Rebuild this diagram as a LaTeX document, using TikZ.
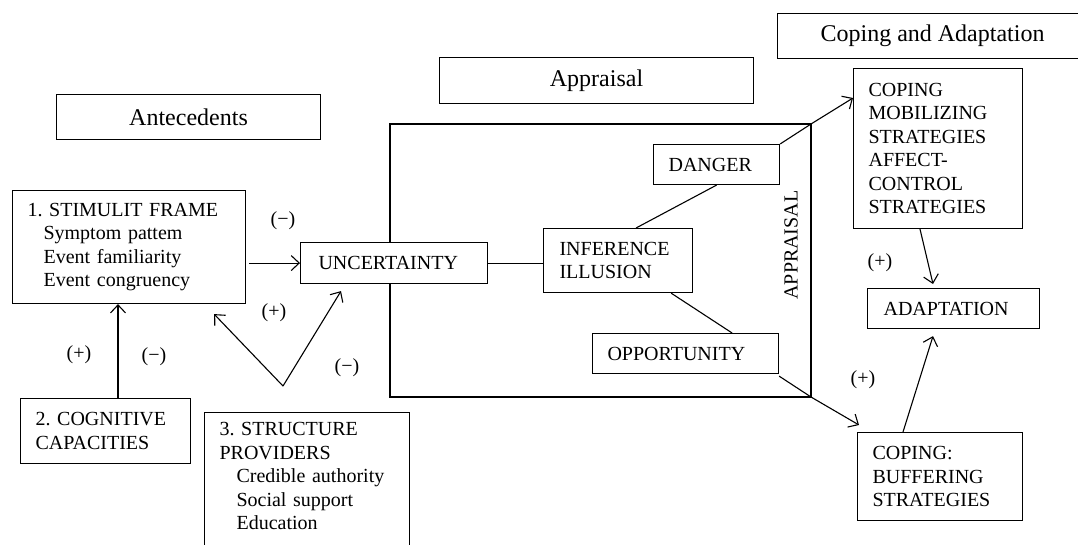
\documentclass[tikz,border=0pt]{standalone}
\usepackage{fontspec}
\setmainfont{Liberation Serif}
\usetikzlibrary{arrows.meta,calc}
\frenchspacing

\begin{document}
\begin{tikzpicture}[
    x=1pt, y=-1pt,
    >={Straight Barb[length=8pt,width=15pt]},
    line width=1.1pt,
    every node/.style={font=\fontsize{20}{23.5}\selectfont},
    box/.style={draw, fill=white, anchor=north west, inner ysep=0pt, align=left},
    titlebox/.style={draw, anchor=north west, inner sep=0pt,
        font=\fontsize{24}{28}\selectfont},
    sign/.style={inner sep=0pt}
]
\useasboundingbox (0,0) rectangle (1078,544);
\clip (0,0) rectangle (1078,544);

%-------------------------
% Column titles
%-------------------------
\node[titlebox, minimum width=264pt, minimum height=45pt] (ante) at (56,94) {Antecedents};
\node[titlebox, minimum width=314pt, minimum height=46pt] (apprt) at (439,57) {Appraisal};
\node[titlebox, minimum width=310pt, minimum height=45pt] (copet) at (777,13) {Coping and Adaptation};

%-------------------------
% Antecedents
%-------------------------
\node[box, text width=203pt, inner xsep=15pt, minimum height=113pt] (stim) at (12,190)
    {1. STIMULIT FRAME\\
     \hspace*{16pt}Symptom pattem\\
     \hspace*{16pt}Event familiarity\\
     \hspace*{16pt}Event congruency};
\node[box, text width=140pt, inner xsep=15pt, minimum height=65pt] (cog) at (20,398)
    {2. COGNITIVE\\CAPACITIES};
\node[box, text width=175pt, inner xsep=15pt, inner ysep=10pt] (struct) at (204,412)
    {3. STRUCTURE\\PROVIDERS\\
     \hspace*{17pt}Credible authority\\
     \hspace*{17pt}Social support\\
     \hspace*{17pt}Education\\ \mbox{}};

%-------------------------
% Appraisal
%-------------------------
\draw (390,124) rectangle (811,397);
\coordinate (fNE) at (811,124);
\coordinate (fSE) at (811,397);
\node[rotate=90] (apprlbl) at (791,245) {APPRAISAL};

\node[box, text width=151pt, inner xsep=18pt, minimum height=41pt] (unc) at (300,242) {UNCERTAINTY};
\node[box, text width=117pt, inner xsep=16pt, minimum height=64pt] (infer) at (543,228)
    {INFERENCE\\ILLUSION};
\node[box, text width=96pt, inner xsep=15pt, minimum height=40pt] (danger) at (653,144) {DANGER};
\node[box, text width=156pt, inner xsep=15pt, minimum height=40pt] (opp) at (592,333) {OPPORTUNITY};

%-------------------------
% Coping and adaptation
%-------------------------
\node[box, text width=139pt, inner xsep=15pt, minimum height=160pt] (mob) at (853,68)
    {COPING\\MOBILIZING\\STRATEGIES\\AFFECT-\\CONTROL\\STRATEGIES};
\node[box, text width=140pt, inner xsep=16pt, minimum height=40pt] (adapt) at (867,288) {ADAPTATION};
\node[box, text width=135pt, inner xsep=15pt, minimum height=88pt] (buff) at (857,432)
    {COPING:\\BUFFERING\\STRATEGIES};

%-------------------------
% Links
%-------------------------
\draw[->] ([xshift=3pt]stim.east |- unc.west) -- (unc.west);
\draw (unc.east) -- (unc.east -| infer.west);
\draw (danger.south) -- ($(infer.north)+(18,0)$);
\draw ($(infer.south east)+(-22,0)$) -- ($(opp.north east)+(-47,0)$);

% Cognitive capacities
\coordinate (cogtop) at ($(cog.north west)+(98,0)$);
\draw[->] (cogtop) -- (cogtop |- stim.south);

% Structure providers
\coordinate (vtx) at (283,386);
\draw[->] (vtx) -- ($(stim.south east)+(-32,10)$);
\draw[->] (vtx) -- ($(unc.south west)+(41,7)$);

% To coping
\draw[->] (danger.north east) -- (fNE) -- ($(mob.north west)+(0,30)$);
\draw[->] ($(opp.south east)+(0,2)$) -- (fSE) -- ($(buff.north west)+(2,-7)$);
\draw[->] ($(mob.south west)+(67,0)$) -- ($(adapt.north west)+(66,-4)$);
\draw[->] ($(buff.north west)+(46,0)$) -- ($(adapt.south west)+(66,7)$);

%-------------------------
% Signs
%-------------------------
\node[sign] (s1) at (283,221) {(−)};
\node[sign] (s2) at (274,313) {(+)};
\node[sign] (s3) at (347,368) {(−)};
\node[sign] (s4) at (79,355) {(+)};
\node[sign] (s5) at (154,357) {(−)};
\node[sign] (s6) at (880,263) {(+)};
\node[sign] (s7) at (863,380) {(+)};
\end{tikzpicture}
\end{document}
